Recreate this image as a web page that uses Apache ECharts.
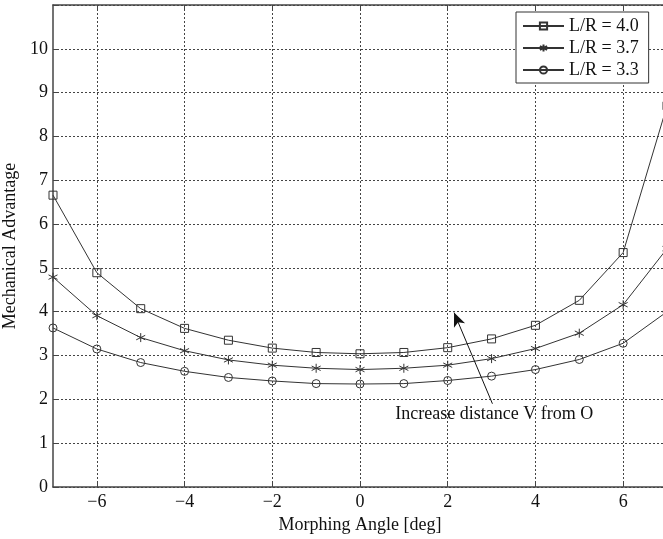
<!DOCTYPE html>
<html>
<head>
<meta charset="utf-8">
<script src="https://cdn.jsdelivr.net/npm/echarts@6/dist/echarts.min.js"></script>
<style>
  html, body { margin: 0; padding: 0; background: #fff; }
  #chart { width: 663px; height: 539px; }
</style>
</head>
<body>
<div id="chart"></div>
<script>
// Morphing angle (deg) and mechanical advantage for three L/R ratios
const angles = [-7, -6, -5, -4, -3, -2, -1, 0, 1, 2, 3, 4, 5, 6, 7];
const ma40 = [6.66, 4.89, 4.07, 3.62, 3.35, 3.17, 3.07, 3.04, 3.07, 3.18, 3.38, 3.69, 4.26, 5.35, 8.70];
const ma37 = [4.79, 3.91, 3.41, 3.11, 2.90, 2.78, 2.71, 2.68, 2.71, 2.78, 2.93, 3.16, 3.51, 4.16, 5.44];
const ma33 = [3.63, 3.15, 2.84, 2.64, 2.50, 2.42, 2.36, 2.35, 2.36, 2.43, 2.53, 2.68, 2.91, 3.28, 4.00];
const seriesNames = ['L/R = 4.0', 'L/R = 3.7', 'L/R = 3.3'];

const xTicks = [-6, -4, -2, 0, 2, 4, 6];
const yTicks = [0, 1, 2, 3, 4, 5, 6, 7, 8, 9, 10];

// annotation: arrow tail/head and text anchor in data units
const arrowFrom = [3.02, 1.90];
const arrowTo = [2.145, 3.98];
const noteAt = [3.06, 1.65];
const noteText = 'Increase distance V from O';

const FONT = '"Liberation Serif", "DejaVu Serif", serif';
const INK = '#333';
const ASTERISK = 'path://M5,0L5,10M0.67,2.5L9.33,7.5M0.67,7.5L9.33,2.5';

function pairs(ys) { return angles.map((x, i) => [x, ys[i]]); }

function curve(name, ys, symbol, size) {
  return {
    name: name,
    type: 'line',
    data: pairs(ys),
    symbol: symbol,
    symbolSize: size,
    showSymbol: true,
    lineStyle: { color: INK, width: 1 },
    itemStyle: { color: 'transparent', borderColor: INK, borderWidth: 1 },
    emphasis: { disabled: true },
    animation: false,
    z: 3
  };
}

const minus = v => (v < 0 ? '\u2212' + Math.abs(v) : String(v));

const chart = echarts.init(document.getElementById('chart'));
chart.setOption({
  animation: false,
  textStyle: { fontFamily: FONT },
  grid: { left: 53, right: -4, top: 5, bottom: 52, containLabel: false, outerBoundsMode: 'none' },
  legend: {
    data: seriesNames,
    orient: 'vertical',
    left: 516,
    top: 12,
    padding: [5, 10, 4, 6],
    itemWidth: 41,
    itemHeight: 9,
    itemGap: 4,
    backgroundColor: '#fff',
    borderColor: INK,
    borderWidth: 1,
    borderRadius: 0,
    textStyle: { fontFamily: FONT, fontSize: 18, color: '#111', lineHeight: 18 },
    selectedMode: false
  },
  xAxis: [{
    type: 'value',
    min: -7,
    max: 7,
    name: 'Morphing Angle [deg]',
    nameLocation: 'middle',
    nameGap: 24,
    nameTextStyle: { fontFamily: FONT, fontSize: 18, color: '#111' },
    axisLine: { show: true, onZero: false, lineStyle: { color: '#444', width: 1.5 } },
    axisTick: { show: true, inside: true, length: 4, customValues: xTicks, lineStyle: { color: '#444' } },
    axisLabel: { customValues: xTicks, formatter: minus, fontFamily: FONT, fontSize: 18, color: '#111', margin: 6 },
    splitLine: { show: true, lineStyle: { color: '#444', width: 1, type: [2, 2] } }
  }, {
    type: 'value',
    position: 'top',
    min: -7,
    max: 7,
    axisLine: { show: true, onZero: false, lineStyle: { color: '#444', width: 1.5 } },
    axisTick: { show: true, inside: true, length: 4, customValues: xTicks, lineStyle: { color: '#444' } },
    axisLabel: { show: false },
    splitLine: { show: false }
  }],
  yAxis: {
    type: 'value',
    min: 0,
    max: 11,
    interval: 1,
    name: 'Mechanical Advantage',
    nameLocation: 'middle',
    nameGap: 22,
    nameTextStyle: { fontFamily: FONT, fontSize: 18, color: '#111' },
    axisLine: { show: true, onZero: false, lineStyle: { color: '#444', width: 1.5 } },
    axisTick: { show: true, inside: true, length: 4, lineStyle: { color: '#444' } },
    axisLabel: {
      formatter: v => (yTicks.indexOf(v) >= 0 ? String(v) : ''),
      fontFamily: FONT, fontSize: 18, color: '#111', margin: 5
    },
    splitLine: { show: true, lineStyle: { color: '#444', width: 1, type: [2, 2] } }
  },
  series: [
    curve(seriesNames[0], ma40, 'rect', 8),
    curve(seriesNames[1], ma37, ASTERISK, 9),
    curve(seriesNames[2], ma33, 'circle', 8),
    {
      name: 'note',
      type: 'line',
      data: [],
      silent: true,
      markLine: {
        silent: true,
        symbol: ['none', 'arrow'],
        symbolSize: [9, 14],
        label: { show: false },
        lineStyle: { color: '#111', width: 1, type: 'solid' },
        itemStyle: { color: '#111' },
        emphasis: { disabled: true },
        data: [[{ coord: arrowFrom }, { coord: arrowTo }]]
      },
      markPoint: {
        silent: true,
        symbol: 'circle',
        symbolSize: 0,
        itemStyle: { color: 'transparent' },
        label: {
          show: true,
          position: 'inside',
          formatter: noteText,
          fontFamily: FONT,
          fontSize: 18,
          color: '#111'
        },
        data: [{ coord: noteAt }]
      }
    }
  ]
});
</script>
</body>
</html>
